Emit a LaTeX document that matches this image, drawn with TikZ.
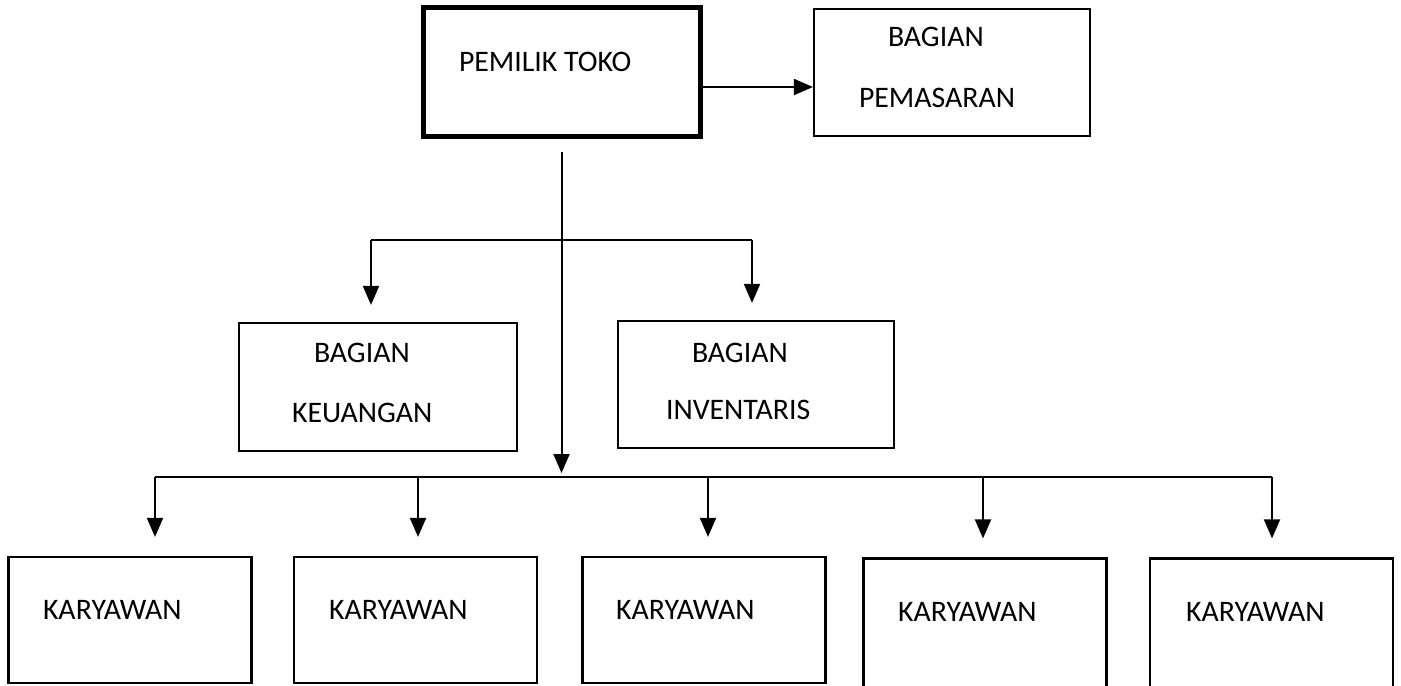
\documentclass[tikz,border=0pt]{standalone}
\usepackage{fontspec}
\setmainfont{Carlito}
\usetikzlibrary{arrows.meta}

\begin{document}
\begin{tikzpicture}[x=0.5pt,y=-0.5pt,line width=1pt,
        box/.style={draw, rectangle, line width=1.1pt, inner sep=0pt},
        txt/.style={anchor=west, inner sep=0pt, font=\fontsize{14.9}{17}\selectfont},
        arr/.style={-{Triangle[length=9.5pt,width=8pt]}}]
            \clip (0,0) rectangle (1401,685);

            % pemilik dan pemasaran
            \node[box, line width=2.5pt, minimum width=138.5pt, minimum height=64.5pt] (pemilik) at (561.5,71.5) {};
            \node[txt] (pemilikT) at (458,62) {PEMILIK TOKO};
            \node[box, minimum width=138pt, minimum height=63.5pt] (pemasaran) at (952,72.5) {};
            \node[txt] (pemasaranA) at (887,37) {BAGIAN};
            \node[txt] (pemasaranB) at (858,98) {PEMASARAN};
            \draw[arr] ([yshift=-7.75pt]pemilik.east) -- ([yshift=-7.75pt]pemilik.east -| pemasaran.west);

            % bagian tengah
            \node[box, minimum width=139pt, minimum height=64pt] (keuangan) at (378,387) {};
            \node[txt] (keuanganA) at (313,353) {BAGIAN};
            \node[txt] (keuanganB) at (291,413) {KEUANGAN};
            \node[box, minimum width=138pt, minimum height=63.5pt] (inventaris) at (756,384.5) {};
            \node[txt] (inventarisA) at (691,353) {BAGIAN};
            \node[txt] (inventarisB) at (665,410) {INVENTARIS};

            \coordinate (midL) at (371,240);
            \coordinate (midR) at (752,240);
            \draw (midL) -- (midR);
            \draw[arr] (midL) -- ([yshift=8.5pt]midL |- keuangan.north);
            \draw[arr] (midR) -- ([yshift=8.5pt]midR |- inventaris.north);

            % karyawan
            \node[box, minimum width=121.5pt, minimum height=63pt] (kary1) at (130,620) {};
            \node[txt] (kary1T) at (42,610) {KARYAWAN};
            \node[box, minimum width=121.5pt, minimum height=63pt] (kary2) at (415.5,620) {};
            \node[txt] (kary2T) at (328,610) {KARYAWAN};
            \node[box, minimum width=121.5pt, minimum height=63pt] (kary3) at (704,620) {};
            \node[txt] (kary3T) at (615,610) {KARYAWAN};
            \node[box, minimum width=121.5pt, minimum height=70.5pt] (kary4) at (985,629) {};
            \node[txt] (kary4T) at (897,612) {KARYAWAN};
            \node[box, minimum width=121.5pt, minimum height=70.5pt] (kary5) at (1271.5,629) {};
            \node[txt] (kary5T) at (1185,612) {KARYAWAN};

            \coordinate (stem) at ([yshift=-6.5pt]pemilik.south);
            \coordinate (b1) at (155,477);
            \coordinate (b2) at (418,477);
            \coordinate (b3) at (708,477);
            \coordinate (b4) at (983,477);
            \coordinate (b5) at (1272,477);
            \draw (b1) -- (b5);
            \draw[arr] (stem) -- ([yshift=2pt]stem |- b1);
            \draw[arr] (b1) -- ([yshift=9.5pt]b1 |- kary1.north);
            \draw[arr] (b2) -- ([yshift=9.5pt]b2 |- kary2.north);
            \draw[arr] (b3) -- ([yshift=9.5pt]b3 |- kary3.north);
            \draw[arr] (b4) -- ([yshift=9.5pt]b4 |- kary4.north);
            \draw[arr] (b5) -- ([yshift=9.5pt]b5 |- kary5.north);
        \end{tikzpicture}
\end{document}
